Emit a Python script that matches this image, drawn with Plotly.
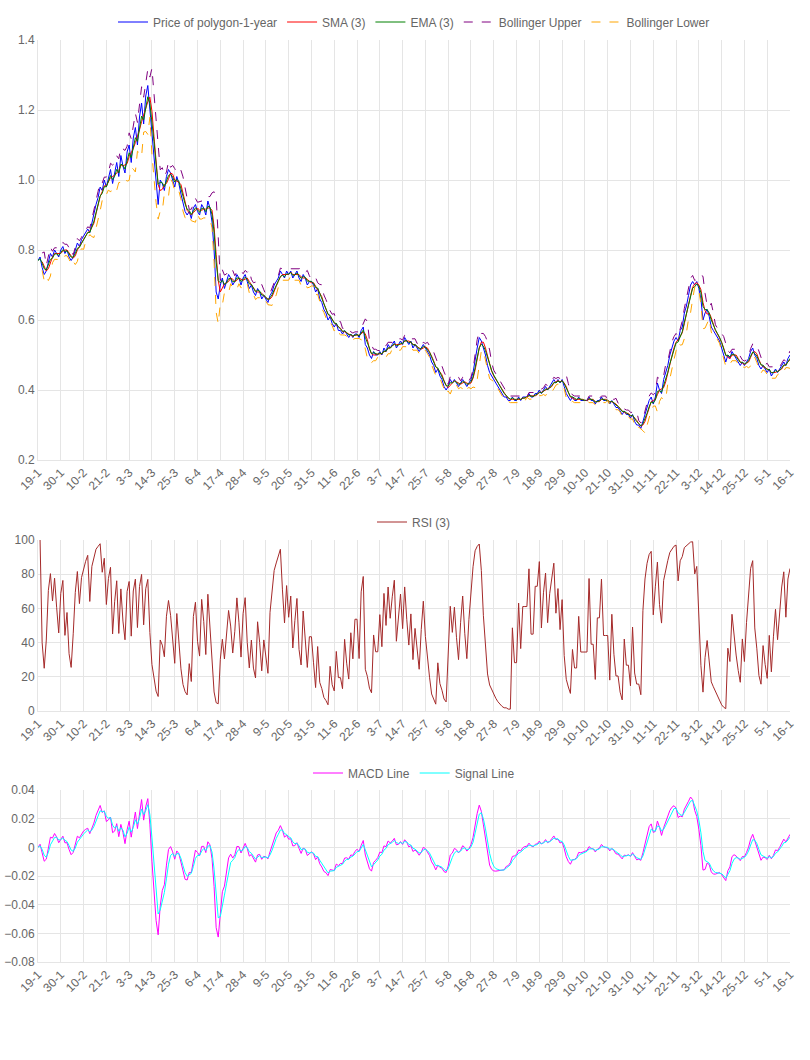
import pandas as pd
import plotly.graph_objects as go

tick_labels = ["19-1","30-1","10-2","21-2","3-3","14-3","25-3","6-4","17-4","28-4","9-5","20-5",
               "31-5","11-6","22-6","3-7","14-7","25-7","5-8","16-8","27-8","7-9","18-9","29-9",
               "10-10","21-10","31-10","11-11","22-11","3-12","14-12","25-12","5-1","16-1"]

price = [
.77,.78,.75,.73,.74,.77,.79,.78,.80,.79,.78,
.80,.81,.79,.80,.78,.77,.78,.80,.82,.81,.83,
.84,.85,.86,.85,.88,.90,.93,.95,.98,.97,1.00,
.98,1.01,1.03,.99,1.02,1.05,1.01,1.07,1.04,1.02,1.08,
1.10,1.05,1.12,1.15,1.10,1.18,1.22,1.16,1.24,1.27,1.20,
1.12,1.05,.98,.93,1.00,.99,.97,1.01,1.03,1.02,1.00,
.98,1.01,.99,.96,.93,.91,.90,.91,.89,.92,.93,
.91,.90,.93,.92,.90,.94,.92,.88,.80,.68,.66,
.70,.72,.69,.71,.73,.72,.70,.71,.73,.72,.70,
.72,.73,.71,.69,.70,.68,.67,.69,.68,.66,.67,
.66,.65,.67,.68,.70,.71,.72,.74,.73,.72,.74,
.73,.74,.72,.73,.74,.72,.71,.73,.72,.70,.71,
.71,.70,.68,.69,.66,.65,.63,.62,.60,.61,.59,
.58,.59,.57,.57,.56,.57,.56,.55,.56,.55,.56,
.56,.55,.57,.58,.53,.52,.50,.49,.51,.50,.50,
.51,.50,.52,.51,.53,.52,.53,.54,.52,.53,.54,
.53,.55,.54,.53,.54,.52,.53,.52,.51,.52,.53,
.52,.51,.50,.48,.47,.45,.46,.44,.43,.41,.40,
.41,.43,.42,.43,.42,.41,.42,.43,.42,.41,.42,
.43,.45,.49,.52,.55,.54,.52,.50,.47,.45,.44,
.43,.42,.41,.40,.39,.38,.38,.37,.37,.38,.37,
.37,.38,.37,.38,.38,.38,.39,.38,.38,.39,.39,
.40,.39,.40,.41,.40,.41,.42,.43,.42,.43,.42,
.43,.41,.39,.38,.37,.38,.37,.37,.38,.37,.37,
.37,.37,.38,.37,.37,.36,.37,.37,.38,.37,.37,
.37,.36,.37,.36,.35,.35,.34,.33,.34,.33,.33,
.32,.33,.31,.30,.30,.29,.31,.33,.35,.37,.38,
.36,.38,.42,.40,.39,.43,.45,.47,.50,.52,.54,
.55,.54,.57,.58,.62,.64,.67,.70,.71,.70,.71,
.69,.66,.60,.62,.63,.61,.58,.57,.56,.55,.54,
.52,.50,.48,.50,.49,.51,.50,.49,.48,.47,.48,
.47,.48,.49,.51,.52,.50,.49,.47,.46,.47,.46,
.45,.46,.44,.45,.46,.45,.46,.47,.48,.47,.49,
.50]

x = list(range(len(price)))
s = pd.Series(price)
sma = s.rolling(3).mean()
ema = s.ewm(span=3, adjust=False).mean()
std = s.rolling(3).std(ddof=0)
bu = sma + 2 * std
bl = sma - 2 * std
d = s.diff()
up = d.clip(lower=0).ewm(alpha=1/3, adjust=False).mean()
dn = (-d.clip(upper=0)).ewm(alpha=1/3, adjust=False).mean()
rsi = 100 - 100 / (1 + up / dn.replace(0, 1e-9))
macd = s.ewm(span=3, adjust=False).mean() - s.ewm(span=6, adjust=False).mean()
sig = macd.ewm(span=3, adjust=False).mean()

fig = go.Figure()
def add(y, name, color, xa, ya, leg, dash=None):
    fig.add_trace(go.Scatter(x=x, y=list(y), name=name, mode="lines",
        line=dict(color=color, width=1, dash=dash), xaxis=xa, yaxis=ya, legend=leg))

add(s, "Price of polygon-1-year", "blue", "x", "y", "legend")
add(sma, "SMA (3)", "red", "x", "y", "legend")
add(ema, "EMA (3)", "green", "x", "y", "legend")
add(bu, "Bollinger Upper", "purple", "x", "y", "legend", "dash")
add(bl, "Bollinger Lower", "orange", "x", "y", "legend", "dash")
add(rsi, "RSI (3)", "brown", "x2", "y2", "legend2")
add(macd, "MACD Line", "magenta", "x3", "y3", "legend3")
add(sig, "Signal Line", "cyan", "x3", "y3", "legend3")

W, H = 810, 1060
def dom(a, b): return [1 - b / H, 1 - a / H]
xd = [38 / W, 790 / W]
tickvals = [i * 11 for i in range(len(tick_labels))]
xcommon = dict(domain=xd, tickmode="array", tickvals=tickvals, ticktext=tick_labels,
               tickangle=-45, showgrid=True, gridcolor="#e5e5e5", linecolor="#e5e5e5",
               range=[0, len(price) - 1], ticks="", zeroline=False, automargin=False,
               tickfont=dict(size=12, color="#666"))
ycommon = dict(showgrid=True, gridcolor="#e5e5e5", zeroline=False, linecolor="#e5e5e5",
               automargin=False, tickfont=dict(size=12, color="#666"))
leg = dict(orientation="h", xanchor="center", x=414 / W, yanchor="middle",
           font=dict(size=12, color="#666"), bgcolor="rgba(0,0,0,0)")
fig.update_layout(
    width=W, height=H, margin=dict(l=0, r=0, t=0, b=0, autoexpand=False),
    plot_bgcolor="white", paper_bgcolor="white",
    font=dict(family="Liberation Sans, Arial", color="#666"),
    xaxis=dict(**xcommon, anchor="y"),
    xaxis2=dict(**xcommon, anchor="y2"),
    xaxis3=dict(**xcommon, anchor="y3"),
    yaxis=dict(**ycommon, domain=dom(40, 460), range=[0.2, 1.4], dtick=0.2, tickformat=".1f", anchor="x"),
    yaxis2=dict(**ycommon, domain=dom(540, 711), range=[0, 100], dtick=20, anchor="x2"),
    yaxis3=dict(**ycommon, domain=dom(790, 962), range=[-0.08, 0.04], dtick=0.02, anchor="x3"),
    legend=dict(**leg, y=1 - 22 / H),
    legend2=dict(**leg, y=1 - 522 / H),
    legend3=dict(**leg, y=1 - 773 / H),
)
fig.write_html("out.html", config={"displayModeBar": False},
               post_script="document.body.style.margin='0';document.body.style.overflow='hidden';")
